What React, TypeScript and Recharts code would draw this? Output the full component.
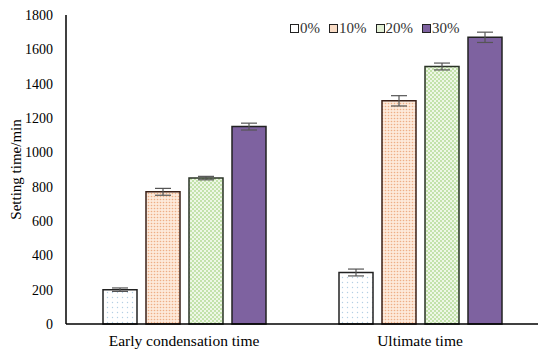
import { BarChart, Bar, XAxis, YAxis, ErrorBar, Legend } from 'recharts';

// categories and series values
const categories = ['Early condensation time', 'Ultimate time'];
const seriesNames = ['0%', '10%', '20%', '30%'];
const values0 = [200, 300];
const values10 = [770, 1300];
const values20 = [850, 1500];
const values30 = [1150, 1670];
const errors0 = [10, 20];
const errors10 = [20, 30];
const errors20 = [10, 20];
const errors30 = [20, 30];
const yTicks = [0, 200, 400, 600, 800, 1000, 1200, 1400, 1600, 1800];

const data = categories.map((name, i) => ({
  name,
  v0: values0[i],
  v10: values10[i],
  v20: values20[i],
  v30: values30[i],
  e0: errors0[i],
  e10: errors10[i],
  e20: errors20[i],
  e30: errors30[i],
}));

const fills = ['url(#pat0)', 'url(#pat10)', 'url(#pat20)', '#7e62a0'];
const legendFills = ['#ffffff', '#f9dcc6', '#e2f0d4', '#7e62a0'];
const strokes = ['#222', '#3a2018', '#2a3326', '#222'];
const FONT = '"Liberation Serif", "Times New Roman", serif';

function LegendContent() {
  return (
    <div style={{ display: 'flex', fontFamily: FONT, fontSize: 15, color: '#333', lineHeight: '16px' }}>
      {seriesNames.map((s, i) => (
        <div key={s} style={{ display: 'flex', alignItems: 'center', marginRight: 9 }}>
          <span
            style={{
              display: 'inline-block',
              width: 7,
              height: 7,
              border: '1.5px solid #222',
              background: legendFills[i],
              marginRight: 1,
            }}
          />
          {s}
        </div>
      ))}
    </div>
  );
}

export default function App() {
  const keys = ['v0', 'v10', 'v20', 'v30'];
  const errKeys = ['e0', 'e10', 'e20', 'e30'];
  return (
    <div style={{ position: 'absolute', left: 0, top: 0, background: '#fff' }}>
      <BarChart
        width={550}
        height={356}
        data={data}
        margin={{ top: 15, right: 12, left: 0, bottom: 0 }}
        barSize={34}
        barGap={9}
      >
        <defs>
          <pattern id="pat0" width="5" height="5" patternUnits="userSpaceOnUse">
            <rect width="5" height="5" fill="#ffffff" />
            <circle cx="2.5" cy="2.5" r="0.7" fill="#b4cfe4" />
          </pattern>
          <pattern id="pat10" width="3" height="3" patternUnits="userSpaceOnUse">
            <rect width="3" height="3" fill="#fde9da" />
            <circle cx="1.5" cy="1.5" r="0.8" fill="#eeae86" />
          </pattern>
          <pattern id="pat20" width="4" height="4" patternUnits="userSpaceOnUse">
            <rect width="4" height="4" fill="#eef7e6" />
            <rect x="0" y="0" width="2" height="2" fill="#c3e2ab" />
            <rect x="2" y="2" width="2" height="2" fill="#c3e2ab" />
          </pattern>
        </defs>
        <XAxis
          dataKey="name"
          axisLine={{ stroke: '#000', strokeWidth: 1.5 }}
          tickLine={false}
          tickSize={8}
          tickMargin={3}
          tick={{ fill: '#000', fontSize: 15.5, fontFamily: FONT }}
          height={32}
        />
        <YAxis
          domain={[0, 1800]}
          ticks={yTicks}
          width={66}
          axisLine={{ stroke: '#000', strokeWidth: 1.5 }}
          tickLine={false}
          tickSize={10}
          tickMargin={3}
          tick={{ fill: '#000', fontSize: 14, fontFamily: FONT }}
          label={{
            value: 'Setting time/min',
            angle: -90,
            position: 'insideLeft',
            offset: 16,
            style: { fill: '#000', fontSize: 15, fontFamily: FONT, textAnchor: 'middle' },
          }}
        />
        <Legend
          layout="horizontal"
          verticalAlign="middle"
          align="center"
          wrapperStyle={{ top: 20, left: 290, width: 'auto' }}
          content={<LegendContent />}
        />
        {keys.map((k, i) => (
          <Bar
            key={k}
            dataKey={k}
            name={seriesNames[i]}
            fill={fills[i]}
            stroke={strokes[i]}
            strokeWidth={1.5}
            isAnimationActive={false}
          >
            <ErrorBar dataKey={errKeys[i]} width={8} stroke="#555" strokeWidth={1.2} />
          </Bar>
        ))}
      </BarChart>
    </div>
  );
}
